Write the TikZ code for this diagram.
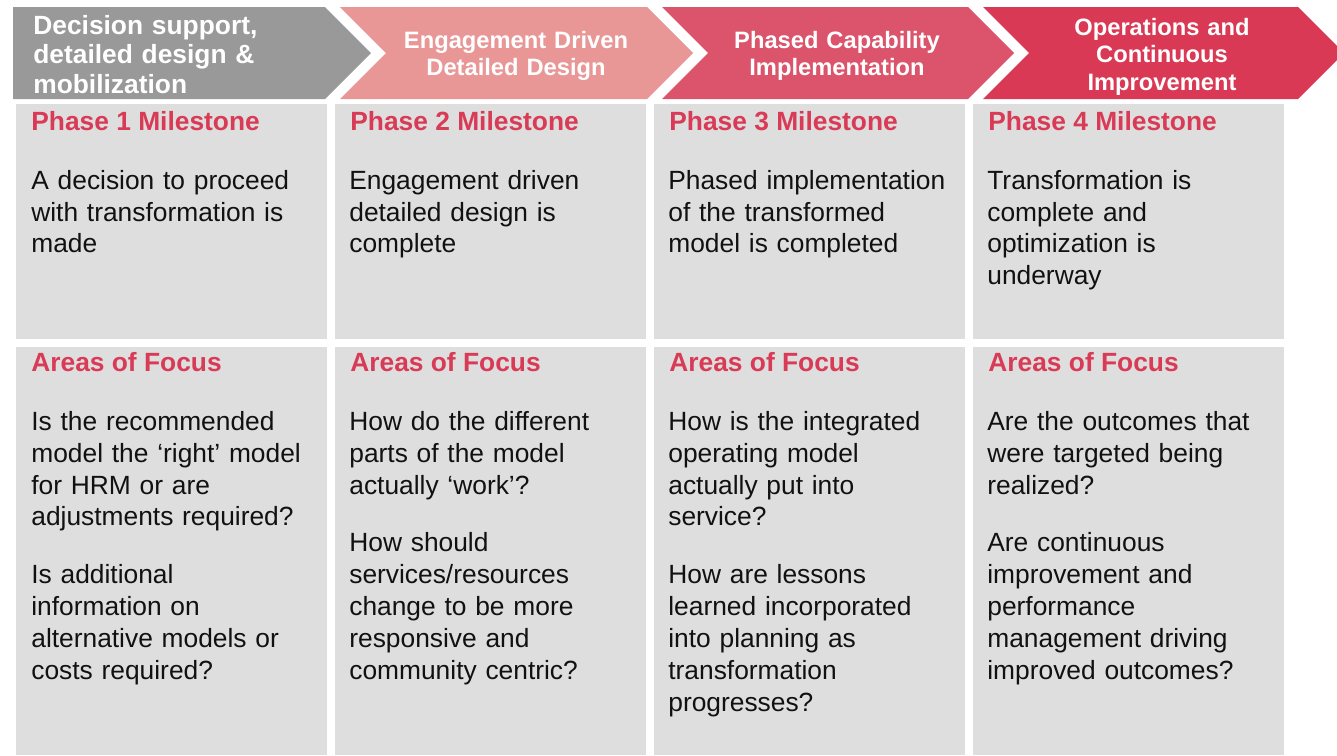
\documentclass[tikz,border=0pt]{standalone}
\usepackage{fontspec}
\setmainfont{Liberation Sans}
\usetikzlibrary{positioning}

\definecolor{phasegray}{HTML}{999999}
\definecolor{phasepink}{HTML}{E99696}
\definecolor{phaserose}{HTML}{DB546B}
\definecolor{phasered}{HTML}{D93954}
\definecolor{headred}{HTML}{D93A56}
\definecolor{cellgray}{HTML}{DEDEDE}
\definecolor{bodyblack}{HTML}{111111}

\begin{document}
\begin{tikzpicture}[
    x=0.02cm, y=-0.02cm,
    cell/.style={fill=cellgray, inner sep=0pt, anchor=north west, minimum width=6.22cm},
    head/.style={anchor=base west, inner sep=0pt, text=headred, font=\bfseries\fontsize{15}{18.2}\selectfont},
    body/.style={anchor=base west, inner sep=0pt, text width=7cm, align=left, text=bodyblack, font=\fontsize{15}{18.21}\selectfont},
    chev/.style={anchor=base, inner sep=0pt, text width=6cm, align=center, text=white, font=\bfseries\fontsize{13.5}{15.9}\selectfont}
]
\useasboundingbox (0,0) rectangle (1337,755);

% --- Phase chevrons ---
\fill[phasegray] (13,7) -- (325,7) -- (371,53) -- (325,99) -- (13,99) -- cycle;
\foreach \x/\w/\c in {340/307/phasepink, 662/306/phaserose, 983/315/phasered}
    \fill[\c] (\x,7) -- ++(\w,0) -- ++(46,46) -- ++(-46,46) -- ++(-\w,0) -- ++(46,-46) -- cycle;

% --- Chevron labels ---
\node[anchor=base west, inner sep=0pt, text width=7cm, align=left, text=white,
      font=\bfseries\fontsize{15}{17}\selectfont] (p1) at (33,34)
    {Decision support,\\ detailed design \&\\ mobilization};
\node[chev] (p2) at (516,48) {Engagement Driven\\ Detailed Design};
\node[chev] (p3) at (837,48) {Phased Capability\\ Implementation};
\node[chev] (p4) at (1162,35) {Operations and\\ Continuous\\ Improvement};

% --- Grey cells and headings ---
\foreach \i in {1,...,4}
{
    \node[cell, minimum height=4.7cm] (m\i) at ({16+319*(\i-1)},104) {};
    \node[cell, minimum height=8.16cm] (f\i) at ({16+319*(\i-1)},347) {};
    \node[head] (mh\i) at ({31+319*(\i-1)},130) {Phase \i\ Milestone};
    \node[head] (fh\i) at ({31+319*(\i-1)},371) {Areas of Focus};
}

% --- Milestones ---
\node[body] (mb1) at (31,189) {A decision to proceed\\ with transformation is\\ made};
\node[body] (mb2) at (349,189) {Engagement driven\\ detailed design is\\ complete};
\node[body] (mb3) at (668,189) {Phased implementation\\ of the transformed\\ model is completed};
\node[body] (mb4) at (987,189) {Transformation is\\ complete and\\ optimization is\\ underway};

% --- Areas of focus ---
\node[body] (fb1) at (31,430) {Is the recommended\\ model the ‘right’ model\\ for HRM or are\\ adjustments required?\\[0.52cm]
    Is additional\\ information on\\ alternative models or\\ costs required?};
\node[body] (fb2) at (349,430) {How do the different\\ parts of the model\\ actually ‘work’?\\[0.52cm]
    How should\\ services/resources\\ change to be more\\ responsive and\\ community centric?};
\node[body] (fb3) at (668,430) {How is the integrated\\ operating model\\ actually put into\\ service?\\[0.52cm]
    How are lessons\\ learned incorporated\\ into planning as\\ transformation\\ progresses?};
\node[body] (fb4) at (987,430) {Are the outcomes that\\ were targeted being\\ realized?\\[0.52cm]
    Are continuous\\ improvement and\\ performance\\ management driving\\ improved outcomes?};

\end{tikzpicture}
\end{document}
